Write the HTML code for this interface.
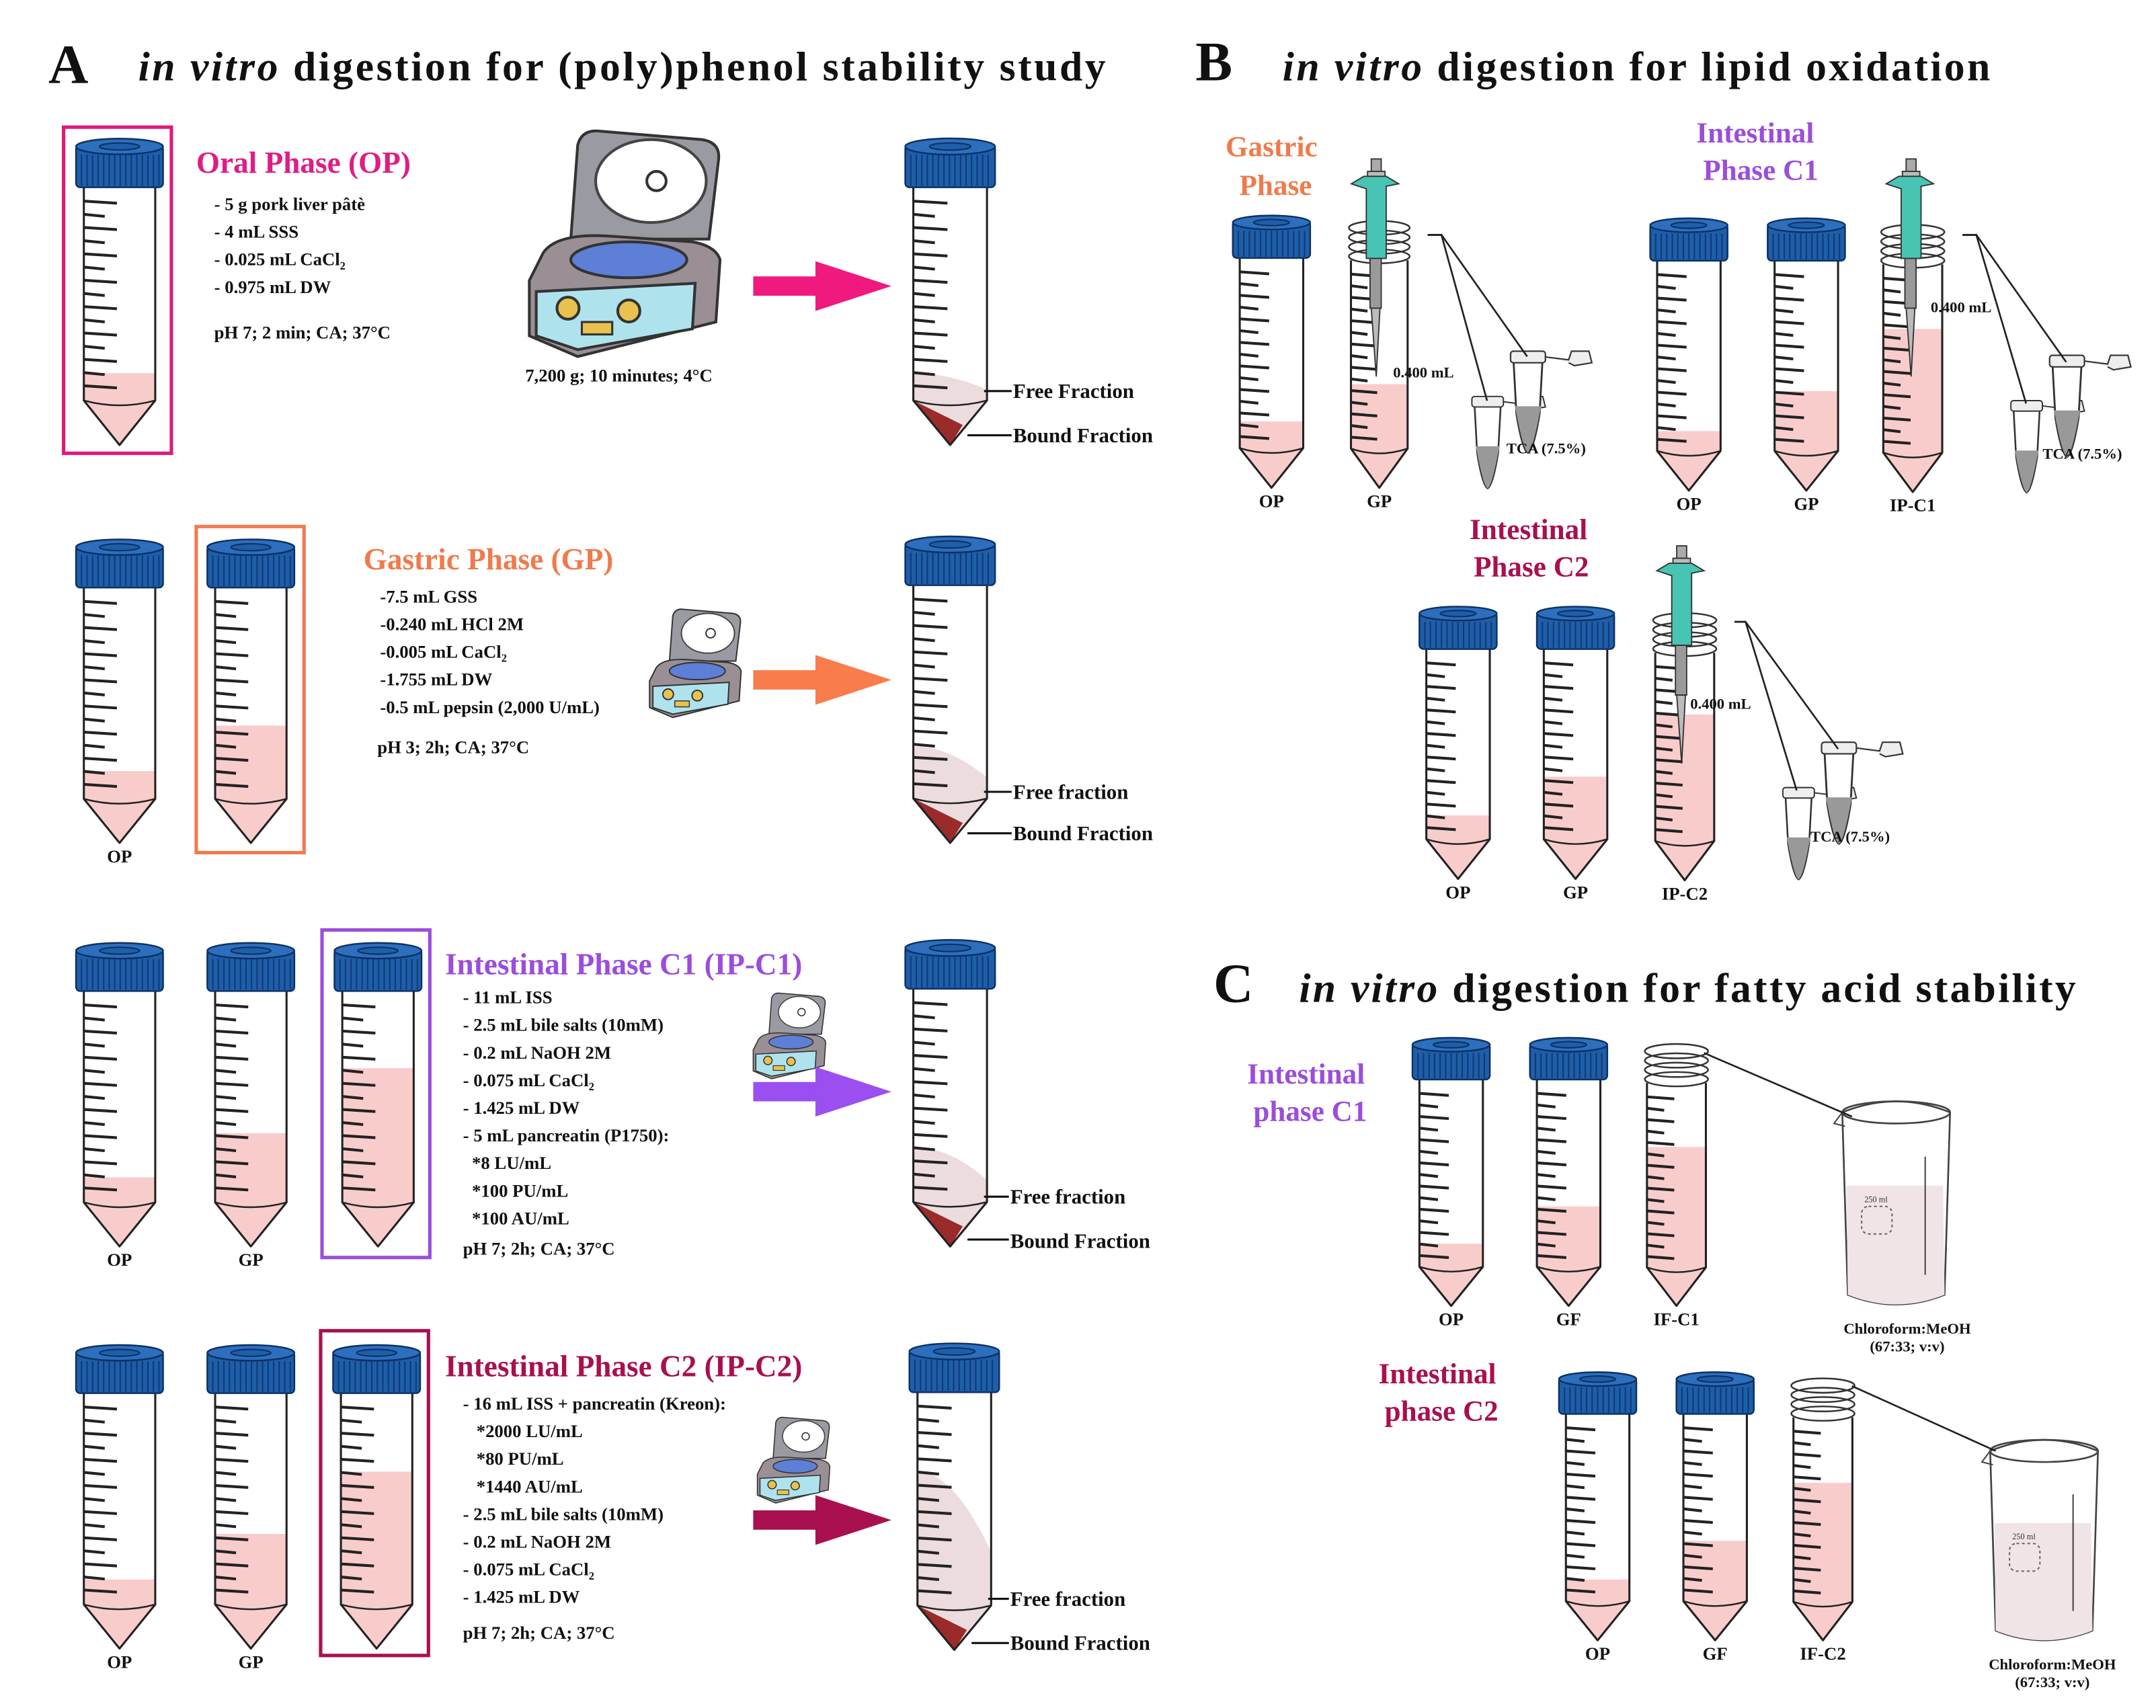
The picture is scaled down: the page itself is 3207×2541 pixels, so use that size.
<!DOCTYPE html>
<html><head><meta charset="utf-8">
<style>
html,body{margin:0;padding:0;background:#fff;}
svg{display:block;}
text{font-family:"Liberation Serif",serif;}
</style></head>
<body>
<svg id="s" xmlns="http://www.w3.org/2000/svg" width="3207" height="2541" viewBox="0 0 1560 1236">
<rect width="1560" height="1236" fill="#fff"/>
<g id="g"></g>
</svg>
<script>
const P=[];
function add(s){P.push(s);}
function T(x,y,str,size,opt={}){
  add(`<text x="${x}" y="${y}" font-size="${size}" fill="${opt.c||'#111'}" ${opt.b?'font-weight="bold"':''} ${opt.i?'font-style="italic"':''} text-anchor="${opt.a||'start'}">${str}</text>`);
}
function tube(x,y,w,h,fy,o={}){
  const capH=h*0.16, bt=y+capH, bb=y+h*0.855, tip=y+h, cx=x+w/2;
  const b0=x+w*0.09, b1=x+w*0.91;
  if(o.result){
    add(`<path d="M${b0} ${fy} Q${b0+w*0.4} ${fy} ${b1} ${fy+ (bb-fy)*0.6} L${b1} ${bb} L${cx} ${tip} L${b0} ${bb}Z" fill="#ecdcdd"/>`);
    add(`<path d="M${b0} ${bb} L${b0+w*0.55} ${bb+(tip-bb)*0.55} L${cx} ${tip} Z" fill="#9b2a2a"/>`);
  } else if(fy!=null){
    add(`<path d="M${b0} ${fy} L${b1} ${fy} L${b1} ${bb} L${cx} ${tip} L${b0} ${bb}Z" fill="#f9cccc"/>`);
  }
  add(`<path d="M${b0} ${bt} L${b0} ${bb} L${cx} ${tip} L${b1} ${bb} L${b1} ${bt}" fill="none" stroke="#222" stroke-width="1.5" stroke-linejoin="round"/>`);
  add(`<path d="M${b0} ${bb} Q${cx} ${bb+7} ${b1} ${bb}" fill="none" stroke="#222" stroke-width="1.2"/>`);
  let i=0;
  for(let yy=bt+10; yy<bb-4; yy+=h*0.043, i++){
    const L=(i%2? w*0.24: w*0.38);
    add(`<line x1="${b0}" y1="${yy}" x2="${b0+L}" y2="${yy+1.5}" stroke="#222" stroke-width="2"/>`);
  }
  if(o.open){
    for(let k=0;k<4;k++){
      const yy=y+capH*0.25+k*capH*0.22;
      add(`<ellipse cx="${cx}" cy="${yy}" rx="${w*0.44}" ry="${w*0.1}" fill="none" stroke="#333" stroke-width="1.2"/>`);
    }
  } else {
    add(`<rect x="${x}" y="${y+5}" width="${w}" height="${capH-5}" fill="#1f5ea8" stroke="#0c3166" stroke-width="1.2" rx="3"/>`);
    for(let sx=x+4; sx<x+w-2; sx+=4) add(`<line x1="${sx}" y1="${y+12}" x2="${sx}" y2="${bt-1}" stroke="#0e3a78" stroke-width="1"/>`);
    add(`<ellipse cx="${cx}" cy="${y+6}" rx="${w/2}" ry="${w*0.09}" fill="#2d6fbd" stroke="#0c3166" stroke-width="1.2"/>`);
    add(`<ellipse cx="${cx}" cy="${y+6}" rx="${w*0.23}" ry="${w*0.04}" fill="#1f5ea8" stroke="#0c3166" stroke-width="1"/>`);
  }
  if(o.label) T(cx, tip+14, o.label, 13, {a:'middle',b:true});
}
function arrow(x,y,c){
  add(`<rect x="${x}" y="${y-7}" width="${48}" height="14" fill="${c}"/>`);
  add(`<path d="M${x+45} ${y-18} L${x+100} ${y} L${x+45} ${y+18}Z" fill="${c}"/>`);
}
function centrifuge(x,y,s){
  add(`<g transform="translate(${x},${y}) scale(${s})">
  <path d="M30 80 L35 12 Q38 0 52 2 L125 8 Q138 10 137 22 L130 80Z" fill="#9a9aa2" stroke="#333" stroke-width="2"/>
  <ellipse cx="88" cy="38" rx="40" ry="30" fill="#fff" stroke="#444" stroke-width="2"/>
  <circle cx="92" cy="38" r="7" fill="#fff" stroke="#333" stroke-width="2"/>
  <path d="M0 110 L10 90 Q20 75 60 78 L118 82 Q135 85 138 95 L135 140 L35 165 L0 150Z" fill="#9a8f95" stroke="#333" stroke-width="2"/>
  <ellipse cx="72" cy="95" rx="42" ry="13" fill="#5d7fd6" stroke="#333" stroke-width="2"/>
  <path d="M5 118 L120 112 L118 145 L35 160 L5 150Z" fill="#aee3ee" stroke="#333" stroke-width="2"/>
  <circle cx="28" cy="130" r="8" fill="#e8c150" stroke="#333" stroke-width="2"/>
  <circle cx="72" cy="132" r="8" fill="#e8c150" stroke="#333" stroke-width="2"/>
  <rect x="38" y="140" width="22" height="9" fill="#e8c150" stroke="#333" stroke-width="1.5"/>
  </g>`);
}
function pipette(x,y,s){
  add(`<g transform="translate(${x},${y}) scale(${s})">
  <rect x="8" y="0" width="8" height="10" fill="#aaa" stroke="#333"/>
  <rect x="5" y="10" width="14" height="8" fill="#bbb" stroke="#333"/>
  <path d="M-8 20 L2 14 L20 14 L30 20 L20 22 L20 80 L4 80 L4 24 Z" fill="#48c4b4" stroke="#333"/>
  <rect x="7" y="80" width="9" height="40" fill="#9a9a9a" stroke="#333"/>
  <path d="M8 120 L15 120 L12 175Z" fill="#bbb" stroke="#333"/>
  </g>`);
}
function micro(x,y,s){
  add(`<g transform="translate(${x},${y}) scale(${s})">
  <path d="M2 8 L22 8 L20 45 Q16 70 12 72 Q8 70 4 45Z" fill="#fff" stroke="#333" stroke-width="1.3"/>
  <path d="M3 40 L21 40 L19 50 Q15 70 12 72 Q9 70 5 50Z" fill="#999"/>
  <rect x="0" y="2" width="24" height="8" rx="2" fill="#eee" stroke="#333"/>
  <path d="M24 6 L40 8 L42 2 L54 2 L56 10 L44 12 L40 10" fill="#eee" stroke="#333"/>
  </g>`);
}
function beaker(x,y,w,h){
  add(`<path d="M${x} ${y+10} Q${x+w/2} ${y-6} ${x+w} ${y+10} L${x+w-4} ${y+h-8} Q${x+w/2} ${y+h+6} ${x+4} ${y+h-8}Z" fill="#fff" stroke="#444" stroke-width="1.3"/>`);
  add(`<path d="M${x+3} ${y+h*0.42} L${x+w-5} ${y+h*0.42} L${x+w-4} ${y+h-8} Q${x+w/2} ${y+h+6} ${x+4} ${y+h-8}Z" fill="#f1e4e6"/>`);
  add(`<ellipse cx="${x+w/2}" cy="${y+10}" rx="${w/2}" ry="8" fill="none" stroke="#444" stroke-width="1.3"/>`);
  add(`<path d="M${x} ${y+10} L${x-6} ${y+18} L${x+2} ${y+20}" fill="none" stroke="#444"/>`);
  add(`<line x1="${x+w-18}" y1="${y+h*0.28}" x2="${x+w-18}" y2="${y+h*0.85}" stroke="#444"/>`);
  add(`<rect x="${x+14}" y="${y+h*0.52}" width="22" height="20" rx="5" fill="none" stroke="#666" stroke-dasharray="2,2"/>`);
  add(`<text x="${x+16}" y="${y+h*0.5}" font-size="6" fill="#333">250 ml</text>`);
}

/* ===== A ===== */
T(35,60,'A',40,{b:true});
add(`<text x="100" y="58" font-size="30" font-weight="bold" fill="#111" textLength="700" lengthAdjust="spacing"><tspan font-style="italic">in vitro</tspan> digestion for (poly)phenol stability study</text>`);

const L=(x,y,arr,sp=20)=>arr.forEach((s,i)=>T(x,y+i*sp,s,13,{b:true}));
const cacl='CaCl<tspan font-size="8" dy="3">2</tspan>';

add(`<rect x="46" y="92" width="78" height="236" fill="none" stroke="#e0197a" stroke-width="2.5"/>`);
tube(55,100,63,222,270);
T(142,125,'Oral Phase (OP)',22,{c:'#e01c84',b:true});
L(155,152,['- 5 g pork liver pâtè','- 4 mL SSS','- 0.025 mL '+cacl,'- 0.975 mL  DW']);
T(155,245,'pH 7; 2 min; CA; 37°C',13,{b:true});
centrifuge(383,93,1.0);
T(380,276,'7,200 g; 10 minutes; 4°C',13,{b:true});
arrow(545,207,'#f0197e');
tube(655,100,65,222,270,{result:true});
add(`<line x1="712" y1="283" x2="732" y2="283" stroke="#111" stroke-width="1.5"/><line x1="700" y1="315" x2="732" y2="315" stroke="#111" stroke-width="1.5"/>`);
T(733,288,'Free Fraction',15,{b:true}); T(733,320,'Bound Fraction',15,{b:true});

tube(55,390,63,220,558,{label:'OP'});
add(`<rect x="142" y="381" width="78" height="236" fill="none" stroke="#f27a4e" stroke-width="2.5"/>`);
tube(150,390,63,220,525);
T(263,412,'Gastric Phase (GP)',22,{c:'#ef7a4c',b:true});
L(275,436,['-7.5 mL GSS','-0.240 mL HCl 2M','-0.005 mL '+cacl,'-1.755 mL DW','-0.5 mL pepsin (2,000 U/mL)']);
T(273,545,'pH 3; 2h; CA; 37°C',13,{b:true});
centrifuge(470,440,0.48);
arrow(545,492,'#f97c4c');
tube(655,388,65,222,540,{result:true});
add(`<line x1="712" y1="573" x2="732" y2="573" stroke="#111" stroke-width="1.5"/><line x1="700" y1="603" x2="732" y2="603" stroke="#111" stroke-width="1.5"/>`);
T(733,578,'Free fraction',15,{b:true}); T(733,608,'Bound Fraction',15,{b:true});

tube(55,682,63,220,852,{label:'OP'});
tube(150,682,63,220,820,{label:'GP'});
add(`<rect x="233" y="673" width="78" height="237" fill="none" stroke="#9b4ddb" stroke-width="2.5"/>`);
tube(242,682,63,220,773);
T(322,705,'Intestinal  Phase C1 (IP-C1)',22,{c:'#9b4ddb',b:true});
L(335,726,['- 11 mL ISS','- 2.5 mL bile salts (10mM)','- 0.2 mL NaOH 2M','- 0.075 mL '+cacl,'- 1.425 mL DW','- 5 mL pancreatin (P1750):','&#160;&#160;*8 LU/mL','&#160;&#160;*100 PU/mL','&#160;&#160;*100 AU/mL']);
T(335,908,'pH 7; 2h; CA; 37°C',13,{b:true});
centrifuge(545,718,0.38);
arrow(545,790,'#9b4ff0');
tube(655,680,65,222,830,{result:true});
add(`<line x1="712" y1="866" x2="730" y2="866" stroke="#111" stroke-width="1.5"/><line x1="700" y1="897" x2="730" y2="897" stroke="#111" stroke-width="1.5"/>`);
T(731,871,'Free fraction',15,{b:true}); T(731,903,'Bound Fraction',15,{b:true});

tube(55,973,63,220,1143,{label:'OP'});
tube(150,973,63,220,1110,{label:'GP'});
add(`<rect x="232" y="963" width="78" height="235" fill="none" stroke="#a8104f" stroke-width="2.5"/>`);
tube(241,973,63,220,1065);
T(322,996,'Intestinal Phase C2 (IP-C2)',22,{c:'#a8104f',b:true});
L(335,1020,['- 16 mL ISS + pancreatin (Kreon):','&#160;&#160;&#160;*2000 LU/mL','&#160;&#160;&#160;*80 PU/mL','&#160;&#160;&#160;*1440 AU/mL','- 2.5 mL bile salts (10mM)','- 0.2 mL NaOH 2M','- 0.075 mL '+cacl,'- 1.425 mL DW']);
T(335,1186,'pH 7; 2h; CA; 37°C',13,{b:true});
centrifuge(548,1025,0.38);
arrow(545,1100,'#a8104f');
tube(658,972,65,222,1065,{result:true});
add(`<line x1="715" y1="1157" x2="730" y2="1157" stroke="#111" stroke-width="1.5"/><line x1="703" y1="1189" x2="730" y2="1189" stroke="#111" stroke-width="1.5"/>`);
T(731,1162,'Free fraction',15,{b:true}); T(731,1194,'Bound Fraction',15,{b:true});

/* ===== B ===== */
T(865,58,'B',40,{b:true});
add(`<text x="928" y="58" font-size="30" font-weight="bold" fill="#111" textLength="512" lengthAdjust="spacing"><tspan font-style="italic">in vitro</tspan> digestion for lipid oxidation</text>`);

T(920,113,'Gastric',21,{c:'#ef7a4c',a:'middle',b:true});
T(923,141,'Phase',21,{c:'#ef7a4c',a:'middle',b:true});
tube(892,155,56,198,305,{label:'OP'});
tube(973,157,50,196,278,{open:true,label:'GP'});
pipette(985,115,0.9);
micro(1065,285,0.95); micro(1093,252,1.05);
add(`<polyline points="1033,170 1043,170 1076,290" fill="none" stroke="#222" stroke-width="1.3"/><polyline points="1033,170 1043,170 1105,258" fill="none" stroke="#222" stroke-width="1.3"/>`);
T(1008,273,'0.400 mL',11,{b:true}); T(1090,328,'TCA (7.5%)',11,{b:true});

T(1270,103,'Intestinal',21,{c:'#9b4ddb',a:'middle',b:true});
T(1274,130,'Phase C1',21,{c:'#9b4ddb',a:'middle',b:true});
tube(1194,157,56,198,312,{label:'OP'});
tube(1279,157,56,198,283,{label:'GP'});
tube(1358,160,52,196,238,{open:true,label:'IP-C1'});
pipette(1372,115,0.9);
micro(1455,288,0.95); micro(1483,255,1.05);
add(`<polyline points="1420,170 1430,170 1466,292" fill="none" stroke="#222" stroke-width="1.3"/><polyline points="1420,170 1430,170 1495,262" fill="none" stroke="#222" stroke-width="1.3"/>`);
T(1397,226,'0.400 mL',11,{b:true}); T(1478,332,'TCA (7.5%)',11,{b:true});

T(1106,390,'Intestinal',21,{c:'#a8104f',a:'middle',b:true});
T(1108,417,'Phase C2',21,{c:'#a8104f',a:'middle',b:true});
tube(1027,438,56,198,590,{label:'OP'});
tube(1112,438,56,198,562,{label:'GP'});
tube(1193,441,52,196,517,{open:true,label:'IP-C2'});
pipette(1206,395,0.9);
micro(1290,568,0.95); micro(1318,535,1.05);
add(`<polyline points="1255,450 1263,450 1300,572" fill="none" stroke="#222" stroke-width="1.3"/><polyline points="1255,450 1263,450 1330,542" fill="none" stroke="#222" stroke-width="1.3"/>`);
T(1223,513,'0.400 mL',11,{b:true}); T(1310,609,'TCA (7.5%)',11,{b:true});

/* ===== C ===== */
T(878,725,'C',40,{b:true});
add(`<text x="940" y="725" font-size="30" font-weight="bold" fill="#111" textLength="562" lengthAdjust="spacing"><tspan font-style="italic">in vitro</tspan> digestion for fatty acid stability</text>`);
T(945,784,'Intestinal',21,{c:'#9b4ddb',a:'middle',b:true});
T(948,811,'phase C1',21,{c:'#9b4ddb',a:'middle',b:true});
tube(1022,750,56,195,900,{label:'OP'});
tube(1107,750,56,195,873,{label:'GF'});
tube(1187,753,52,192,830,{open:true,label:'IF-C1'});
beaker(1333,795,78,150);
add(`<line x1="1233" y1="762" x2="1340" y2="808" stroke="#222" stroke-width="1.3"/>`);
T(1380,965,'Chloroform:MeOH',11,{a:'middle',b:true}); T(1380,978,'(67:33; v:v)',11,{a:'middle',b:true});

T(1040,1001,'Intestinal',21,{c:'#a8104f',a:'middle',b:true});
T(1043,1028,'phase C2',21,{c:'#a8104f',a:'middle',b:true});
tube(1128,992,56,195,1143,{label:'OP'});
tube(1213,992,56,195,1115,{label:'GF'});
tube(1293,995,52,192,1073,{open:true,label:'IF-C2'});
beaker(1440,1040,78,148);
add(`<line x1="1340" y1="1003" x2="1444" y2="1050" stroke="#222" stroke-width="1.3"/>`);
T(1485,1208,'Chloroform:MeOH',11,{a:'middle',b:true}); T(1485,1221,'(67:33; v:v)',11,{a:'middle',b:true});

document.getElementById('g').innerHTML=P.join('\n');
</script>
</body></html>
